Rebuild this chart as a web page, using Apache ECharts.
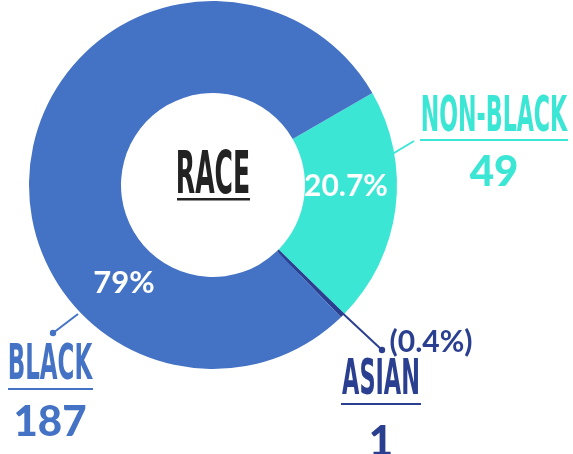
<!DOCTYPE html>
<html>
<head>
<meta charset="utf-8">
<script src="https://cdn.jsdelivr.net/npm/echarts@6/dist/echarts.min.js"></script>
<style>
html,body{margin:0;padding:0;background:#fff;}
#chart{width:573px;height:454px;}
</style>
</head>
<body>
<div id="chart"></div>
<script>
// ---- data ----
const categories = ['Non-Black', 'Asian', 'Black'];
const counts = [49, 1, 187];
const nameLabels = ['NON-BLACK', 'ASIAN', 'BLACK'];
const pctLabels = ['20.7%', '(0.4%)', '79%'];
const centerTitle = 'RACE';

// ---- style ----
const colors = ['#3CE6D4', '#2A3F8F', '#4472C4'];
const condensed = "'Liberation Sans Narrow', 'DejaVu Sans Condensed', sans-serif";
const pctPos = [[346, 186], [431, 342], [124, 283]];
const pctColor = ['#ffffff', '#2A3F8F', '#ffffff'];
const pctSize = [30, 30, 31];
const nameScaleX = [0.82, 0.83, 0.85];
// label block positions: [centerX, nameCenterY, underlineY, underlineX0, underlineX1, valueCenterY]
const blocks = [
  [494, 118, 139, 420, 568, 172],
  [381, 381, 403, 341, 421, 442],
  [50, 366, 388, 8, 93, 422]
];
const leaders = [
  {pts: [[389, 156], [414, 141]], dot: false},
  {pts: [[278, 253], [382, 350]], dot: true},
  {pts: [[78, 314], [53, 333]], dot: true}
];

const chart = echarts.init(document.getElementById('chart'), null, {renderer: 'canvas'});

const graphic = [];
// center title
graphic.push({
  type: 'text', x: 213, y: 178, scaleY: 1.95, scaleX: 0.93,
  style: {text: centerTitle, font: "bold 30px " + condensed, fill: '#222222', align: 'center', verticalAlign: 'middle'}
});
graphic.push({type: 'rect', shape: {x: 177, y: 198, width: 73, height: 2.5}, style: {fill: '#222222'}});

categories.forEach((c, i) => {
  const b = blocks[i];
  graphic.push({
    type: 'text', x: b[0], y: b[1], scaleY: 1.65, scaleX: nameScaleX[i],
    style: {text: nameLabels[i], font: "bold 30px " + condensed, fill: colors[i], align: 'center', verticalAlign: 'middle'}
  });
  graphic.push({type: 'rect', shape: {x: b[3], y: b[2], width: b[4] - b[3], height: 2}, style: {fill: colors[i]}});
  graphic.push({
    type: 'text', x: b[0], y: b[5],
    style: {text: String(counts[i]), font: "900 42px Lato, sans-serif", fill: colors[i], align: 'center', verticalAlign: 'middle'}
  });
  const l = leaders[i];
  graphic.push({type: 'polyline', shape: {points: l.pts}, style: {stroke: colors[i], lineWidth: 2, fill: null}});
  if (l.dot) {
    const e = l.pts[l.pts.length - 1];
    graphic.push({type: 'circle', shape: {cx: e[0], cy: e[1], r: 3.2}, style: {fill: colors[i]}});
  }
});

chart.setOption({
  animation: false,
  backgroundColor: '#ffffff',
  graphic: graphic,
  series: [{
    type: 'pie',
    center: [213, 185],
    radius: [92, 184],
    startAngle: 30,
    clockwise: true,
    avoidLabelOverlap: false,
    silent: true,
    emphasis: {disabled: true},
    itemStyle: {borderWidth: 0},
    data: categories.map((c, i) => ({
      name: c, value: counts[i],
      itemStyle: {color: colors[i]},
      label: {color: pctColor[i], fontSize: pctSize[i]}
    })),
    label: {
      show: true,
      position: 'inside',
      formatter: p => pctLabels[p.dataIndex],
      fontFamily: 'Lato, sans-serif',
      fontWeight: 'bold'
    },
    labelLine: {show: false},
    labelLayout: function (params) {
      const p = pctPos[params.dataIndex];
      return {x: p[0], y: p[1], align: 'center', verticalAlign: 'middle'};
    }
  }]
});
</script>
</body>
</html>
